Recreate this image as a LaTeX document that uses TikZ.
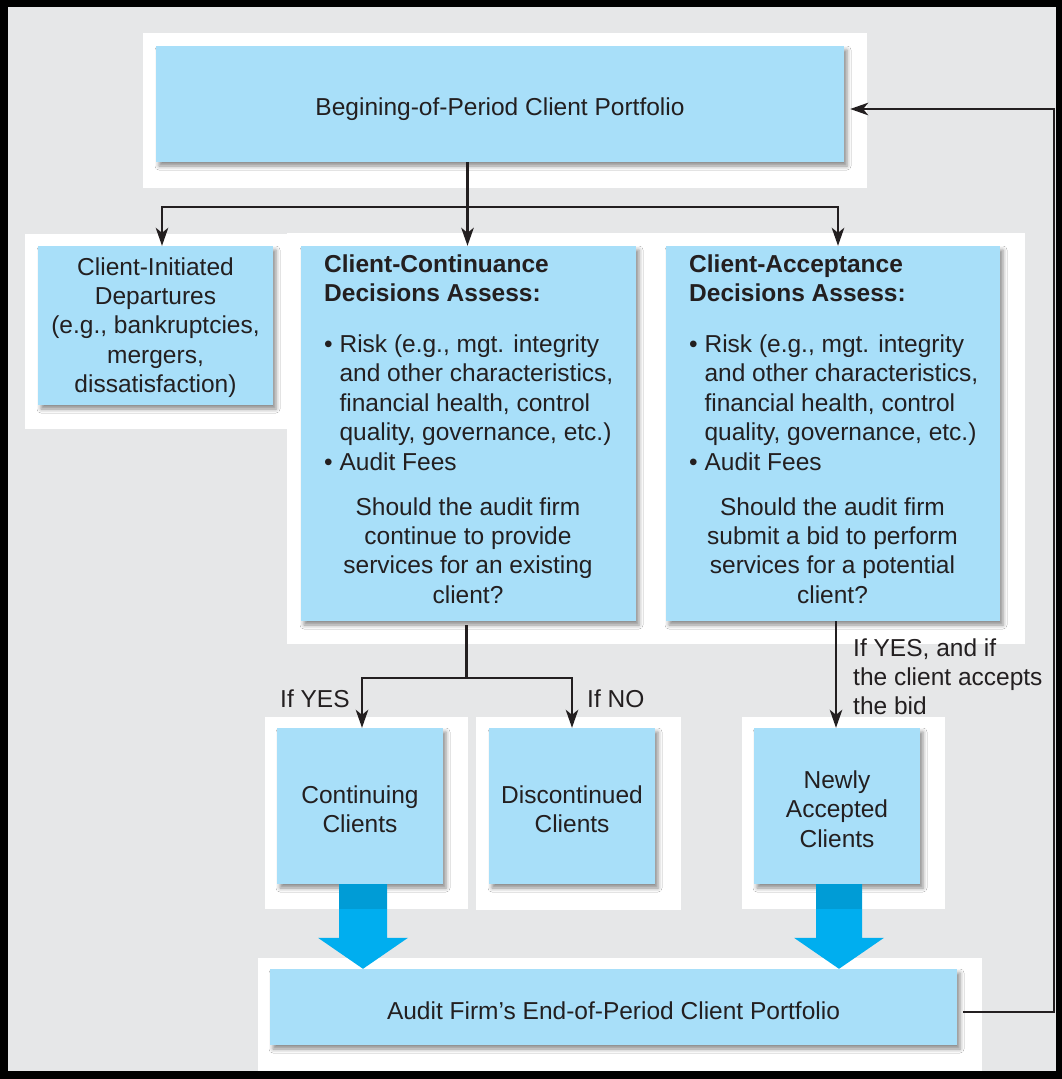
\documentclass[tikz,border=0pt]{standalone}
\usepackage{fontspec}
\setmainfont{Liberation Sans}
\usetikzlibrary{arrows.meta,shadows.blur,calc}

\definecolor{bg}{HTML}{E6E7E8}
\definecolor{boxblue}{HTML}{A8DFF9}
\definecolor{flowblue}{HTML}{00AEEF}
\definecolor{ink}{HTML}{231F20}

% invisible rule that lowers a centred text block inside its box
\newcommand{\toppad}[1]{\rule{0pt}{#1}}

\tikzset{
  panel/.style={fill=white, draw=none},
  bluebox/.style={rectangle, fill=boxblue, draw=none, inner sep=0pt,
    blur shadow={shadow xshift=3pt, shadow yshift=-4pt,
                 shadow blur radius=4pt, shadow opacity=45}},
  txt/.style={font=\fontsize{24.5}{29.4}\selectfont, text=ink, inner sep=0pt},
  link/.style={draw=ink, line width=2.4pt,
    -{Stealth[length=18pt,width=12.5pt,inset=5pt]}},
  plain/.style={draw=ink, line width=2.4pt},
  bigarrow/.style={fill=flowblue, draw=none},
}

\begin{document}
\begin{tikzpicture}[x=1pt,y=-1pt]
\useasboundingbox (0,0) rectangle (1062,1079);

% frame and background
\fill[black] (0,0) rectangle (1062,1079);
\fill[bg] (8,7) rectangle (1056,1071);

% white panels behind the boxes
\fill[panel] (143,33) rectangle (867,188);
\fill[panel] (25,234) rectangle (288,429);
\fill[panel] (287,233) rectangle (650,644);
\fill[panel] (650,233) rectangle (1025,644);
\fill[panel] (265,717) rectangle (468,909);
\fill[panel] (476,717) rectangle (681,910);
\fill[panel] (742,717) rectangle (945,909);
\fill[panel] (258,958) rectangle (982,1071);

% boxes
\node[bluebox, txt, align=center, minimum width=688pt, minimum height=116pt]
  (top) at (500,104) {\toppad{32.6pt}Begining-of-Period Client Portfolio\strut};

\node[bluebox, txt, align=center, minimum width=235pt, minimum height=159pt]
  (dep) at (155.5,325.5)
  {\toppad{25.6pt}Client-Initiated\\Departures\\(e.g., bankruptcies,\\mergers,\\dissatisfaction)\strut};

\node[bluebox, minimum width=335pt, minimum height=375pt]
  (cont) at (468.5,433.5) {};
\node[bluebox, minimum width=334pt, minimum height=375pt]
  (acc) at (833,433.5) {};

\node[bluebox, txt, align=center, minimum width=166pt, minimum height=156pt]
  (contg) at (360,806) {\toppad{32.6pt}Continuing\\Clients\strut};
\node[bluebox, txt, align=center, minimum width=166pt, minimum height=156pt]
  (disc) at (572,806) {\toppad{32.6pt}Discontinued\\Clients\strut};
\node[bluebox, txt, align=center, minimum width=166pt, minimum height=156pt]
  (newly) at (837,806) {\toppad{32.6pt}Newly\\Accepted\\Clients\strut};

\node[bluebox, txt, align=center, minimum width=687pt, minimum height=76pt]
  (end) at (613.5,1007) {\toppad{34.6pt}Audit Firm’s End-of-Period Client Portfolio\strut};

% decision box contents
\node[txt, align=left, anchor=north west] (contlist) at (324,251.4)
  {\strut\textbf{Client-Continuance}\\
   \textbf{Decisions Assess:}\\[21.6pt]
   \textbullet\ Risk (e.g., mgt. integrity\\
   \phantom{\textbullet\ }and other characteristics,\\
   \phantom{\textbullet\ }financial health, control\\
   \phantom{\textbullet\ }quality, governance, etc.)\\
   \textbullet\ Audit Fees};
\node[txt, align=center, anchor=north] (contq) at (468,494.4)
  {\strut Should the audit firm\\continue to provide\\services for an existing\\client?};

\node[txt, align=left, anchor=north west] (acclist) at (689,251.4)
  {\strut\textbf{Client-Acceptance}\\
   \textbf{Decisions Assess:}\\[21.6pt]
   \textbullet\ Risk (e.g., mgt. integrity\\
   \phantom{\textbullet\ }and other characteristics,\\
   \phantom{\textbullet\ }financial health, control\\
   \phantom{\textbullet\ }quality, governance, etc.)\\
   \textbullet\ Audit Fees};
\node[txt, align=center, anchor=north] (accq) at (832.5,494.4)
  {\strut Should the audit firm\\submit a bid to perform\\services for a potential\\client?};

% connectors from the opening portfolio
\coordinate (fork) at ($(cont.north |- top.south)+(-1,45)$);
\draw[link] ($(cont.north |- top.south)+(-1,0)$) -- ($(cont.north)+(-1,0)$);
\draw[link] (fork) -| ([xshift=6.5pt]dep.north);
\draw[link] (fork) -| ([xshift=5pt]acc.north);

% continuance outcomes
\coordinate (fork2) at ($(cont.south)+(-2,57)$);
\draw[plain] ($(cont.south)+(-2,4)$) -- (fork2);
\draw[link] (fork2) -| ([xshift=2pt]contg.north);
\draw[link] (fork2) -| (disc.north);
\node[txt, anchor=base west] (yes) at (280,707) {If YES};
\node[txt, anchor=base west] (no) at (587,707) {If NO};

% acceptance outcome
\draw[link] ($(newly.north |- acc.south)+(-1,0)$) -- ($(newly.north)+(-1,0)$);
\node[txt, align=left, anchor=north west] (bid) at (853,635.4)
  {\strut If YES, and if\\the client accepts\\the bid};

% feedback from the closing portfolio to the next period
\coordinate (rail) at (1054,0);
\coordinate (r1) at ($(end.east)+(6,5)$);
\coordinate (r2) at ($(top.east)+(0,5)$);
\draw[link, shorten >=6pt] (r1) -- (r1 -| rail) -- (r2 -| rail) -- (r2);

% flows into the closing portfolio
\coordinate (fa) at ($(contg.south)+(3,0)$);
\coordinate (fatip) at (fa |- end.north);
\fill[bigarrow] ($(fa)+(-24,0)$) -- ($(fa)+(24,0)$) -- ($(fatip)+(24,-31)$)
  -- ($(fatip)+(45,-31)$) -- (fatip) -- ($(fatip)+(-45,-31)$)
  -- ($(fatip)+(-24,-31)$) -- cycle;
\fill[black, opacity=0.1] ($(fa)+(-24,0)$) rectangle ($(fa)+(24,25)$);

\coordinate (fb) at ($(newly.south)+(2,0)$);
\coordinate (fbtip) at (fb |- end.north);
\fill[bigarrow] ($(fb)+(-23,0)$) -- ($(fb)+(23,0)$) -- ($(fbtip)+(23,-31)$)
  -- ($(fbtip)+(45,-31)$) -- (fbtip) -- ($(fbtip)+(-45,-31)$)
  -- ($(fbtip)+(-23,-31)$) -- cycle;
\fill[black, opacity=0.1] ($(fb)+(-23,0)$) rectangle ($(fb)+(23,25)$);
\end{tikzpicture}
\end{document}
